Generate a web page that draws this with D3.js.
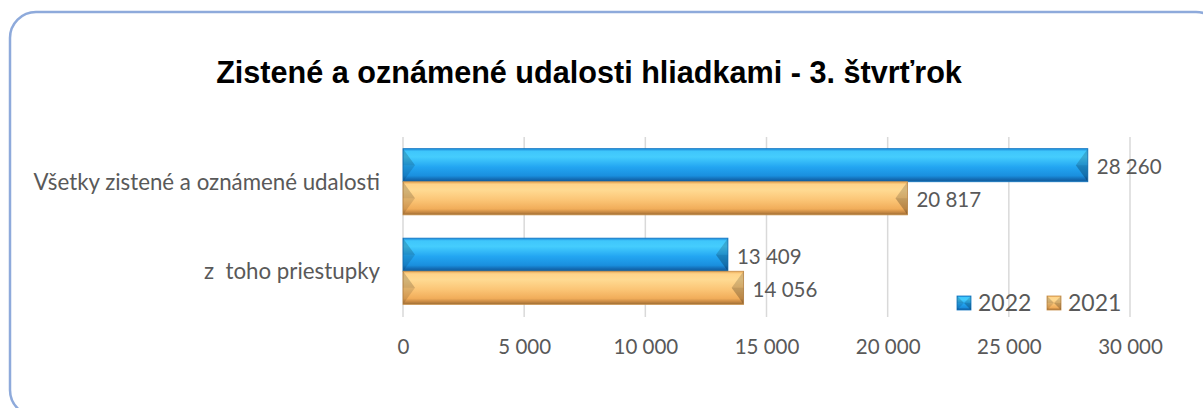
<!DOCTYPE html>
<html>
<head>
<meta charset="utf-8">
<script src="https://cdn.jsdelivr.net/npm/d3@7"></script>
<style>
  html, body { margin: 0; padding: 0; background: #fff; }
  svg { display: block; }
  text { white-space: pre; }
</style>
</head>
<body>
<svg id="chart"></svg>
<script>
const categories = ["Všetky zistené a oznámené udalosti", "z  toho priestupky"];
const seriesNames = ["2022", "2021"];
const values2022 = [28260, 13409];
const values2021 = [20817, 14056];
const xTicks = [0, 5000, 10000, 15000, 20000, 25000, 30000];
const title = "Zistené a oznámené udalosti hliadkami - 3. štvrťrok";

const width = 1203, height = 408;
const labelFont = "Lato, 'Open Sans', sans-serif";
const textColor = "#595959";

const svg = d3.select("#chart").attr("width", width).attr("height", height);

// gradients for the bevelled bars
const defs = svg.append("defs");
const gradients = {
  "2022": [["0%", "#1b86d6"], ["8%", "#3fc6fb"], ["25%", "#45cdfd"], ["55%", "#23a6f2"], ["82%", "#1a8fde"], ["92%", "#136cb4"], ["100%", "#0f5a98"]],
  "2021": [["0%", "#e9a955"], ["8%", "#ffd48a"], ["25%", "#ffda92"], ["55%", "#fbc576"], ["82%", "#f1ad5a"], ["92%", "#c88a44"], ["100%", "#9c6c34"]]
};
Object.entries(gradients).forEach(([key, stops]) => {
  const g = defs.append("linearGradient")
    .attr("id", "grad" + key)
    .attr("x1", 0).attr("y1", 0).attr("x2", 0).attr("y2", 1);
  stops.forEach(([o, c]) => g.append("stop").attr("offset", o).attr("stop-color", c));
});

// frame
svg.append("rect")
  .attr("x", 10).attr("y", 12)
  .attr("width", 1212).attr("height", 404)
  .attr("rx", 26).attr("ry", 26)
  .attr("fill", "#fff")
  .attr("stroke", "#8eaadb")
  .attr("stroke-width", 2.5);

svg.append("text")
  .attr("x", 589).attr("y", 83)
  .attr("text-anchor", "middle")
  .attr("font-family", "'Liberation Sans', Arial, sans-serif")
  .attr("font-weight", "bold")
  .attr("font-size", 30.6)
  .attr("fill", "#000")
  .text(title);

const x = d3.scaleLinear().domain([0, 30000]).range([403, 1130]);
const y = d3.scaleBand().domain(categories).range([137, 316]).paddingInner(0.26).paddingOuter(0.13);
const ySub = d3.scaleBand().domain(seriesNames).range([0, y.bandwidth()]).padding(0);

// gridlines
svg.append("g")
  .selectAll("line")
  .data(xTicks)
  .join("line")
  .attr("x1", d => x(d)).attr("x2", d => x(d))
  .attr("y1", 137).attr("y2", 317)
  .attr("stroke", "#d9d9d9")
  .attr("stroke-width", 1.5);

// x axis labels
const xAxis = d3.axisBottom(x)
  .tickValues(xTicks)
  .tickSize(0)
  .tickPadding(0)
  .tickFormat(d => d3.format(",")(d).replace(/,/g, " "));
const axisG = svg.append("g").attr("transform", "translate(0,339)").call(xAxis);
axisG.select(".domain").remove();
axisG.selectAll("text")
  .attr("font-family", labelFont)
  .attr("font-size", 20.5)
  .attr("fill", textColor);

// category labels
svg.append("g")
  .selectAll("text")
  .data(categories)
  .join("text")
  .attr("x", 380)
  .attr("y", d => y(d) + y.bandwidth() / 2)
  .attr("dy", "0.35em")
  .attr("text-anchor", "end")
  .attr("font-family", labelFont)
  .attr("font-size", 22.3)
  .attr("fill", textColor)
  .text(d => d);

function bevelBar(g, x0, y0, w, h, key) {
  const b = Math.min(12, h / 2, w / 2);
  g.append("rect")
    .attr("x", x0).attr("y", y0).attr("width", w).attr("height", h)
    .attr("fill", `url(#grad${key})`)
    .attr("stroke", key === "2022" ? "#1478c4" : "#c8904a")
    .attr("stroke-width", 0.8);
  const ym = y0 + h / 2;
  g.append("path")
    .attr("d", `M${x0},${y0}L${x0 + b},${ym}L${x0},${y0 + h}Z`)
    .attr("fill", "#000").attr("fill-opacity", 0.12);
  g.append("path")
    .attr("d", `M${x0},${y0}L${x0 + b},${ym}L${x0},${ym}Z`)
    .attr("fill", "#000").attr("fill-opacity", 0.06);
  const x1 = x0 + w;
  g.append("path")
    .attr("d", `M${x1},${y0}L${x1 - b},${ym}L${x1},${y0 + h}Z`)
    .attr("fill", "#000").attr("fill-opacity", 0.16);
  g.append("path")
    .attr("d", `M${x1},${ym}L${x1 - b},${ym}L${x1},${y0 + h}Z`)
    .attr("fill", "#000").attr("fill-opacity", 0.08);
}

const rows = [];
categories.forEach((c, i) => {
  rows.push({ cat: c, key: "2022", value: values2022[i] });
  rows.push({ cat: c, key: "2021", value: values2021[i] });
});

const barsG = svg.append("g");
rows.forEach(d => {
  const y0 = y(d.cat) + ySub(d.key);
  const h = ySub.bandwidth();
  bevelBar(barsG, x(0), y0, x(d.value) - x(0), h, d.key);
  barsG.append("text")
    .attr("x", x(d.value) + 9)
    .attr("y", y0 + h / 2 + 2)
    .attr("dy", "0.35em")
    .attr("font-family", labelFont)
    .attr("font-size", 20.5)
    .attr("fill", textColor)
    .text(d3.format(",")(d.value).replace(/,/g, " "));
});

// legend
const legend = svg.append("g").attr("transform", "translate(957,296)");
const legendX = [0, 90];
seriesNames.forEach((s, i) => {
  const lg = legend.append("g").attr("transform", `translate(${legendX[i]},0)`);
  bevelBar(lg, 0, 0, 14, 14, s);
  lg.append("text")
    .attr("x", 21).attr("y", 7)
    .attr("dy", "0.35em")
    .attr("font-family", labelFont)
    .attr("font-size", 23)
    .attr("fill", textColor)
    .text(s);
});
</script>
</body>
</html>
